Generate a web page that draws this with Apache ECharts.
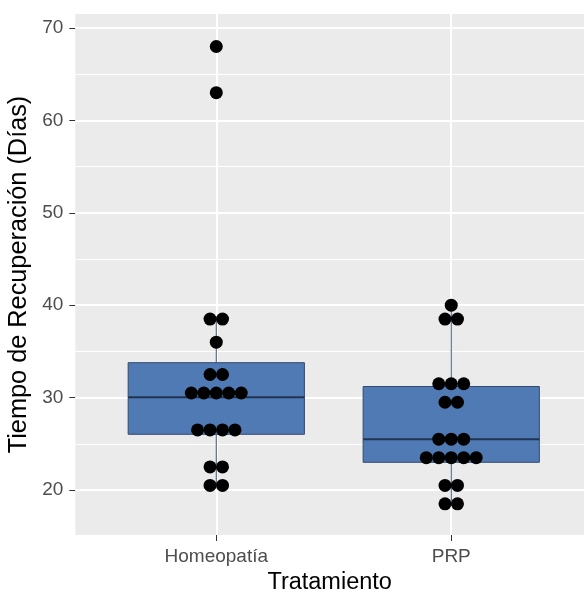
<!DOCTYPE html>
<html>
<head>
<meta charset="utf-8">
<script src="https://cdn.jsdelivr.net/npm/echarts@6/dist/echarts.min.js"></script>
<style>
  html, body { margin: 0; padding: 0; background: #ffffff; }
  #chart { width: 584px; height: 592px; }
</style>
</head>
<body>
<div id="chart"></div>
<script>
// ---- Data ----
const categories = ['Homeopatía', 'PRP'];
// binned dot values and how many dots in each stack
const homeoDotValues = [20.5, 22.5, 26.5, 30.5, 32.5, 36, 38.5, 63, 68];
const homeoDotCounts = [2, 2, 4, 5, 2, 1, 2, 1, 1];
const prpDotValues = [18.5, 20.5, 23.5, 25.5, 29.5, 31.5, 38.5, 40];
const prpDotCounts = [2, 2, 5, 3, 2, 3, 2, 1];
// box statistics: [lower whisker, Q1, median, Q3, upper whisker]
const homeoBox = [20.5, 26.03, 30.03, 33.78, 38.5];
const prpBox = [18.5, 23.0, 25.5, 31.2, 40.0];
const yTicks = [20, 30, 40, 50, 60, 70];
const yMinorTicks = [25, 35, 45, 55, 65];
const xTicks = [1, 2];

// ---- Styling constants ----
const DOT_STEP = 0.0531;   // horizontal spacing of dots in a stack (axis units)
const BOX_WIDTH = 0.75;
const FONT = "'Liberation Sans', Arial, sans-serif";

function buildDots(values, counts, pos) {
  const out = [];
  values.forEach((v, i) => {
    const n = counts[i];
    for (let j = 0; j < n; j++) {
      out.push([pos + (j - (n - 1) / 2) * DOT_STEP, v]);
    }
  });
  return out;
}
const dots = buildDots(homeoDotValues, homeoDotCounts, 1)
  .concat(buildDots(prpDotValues, prpDotCounts, 2));

const boxData = [[1].concat(homeoBox), [2].concat(prpBox)];

const chart = echarts.init(document.getElementById('chart'), null, { renderer: 'canvas' });

const option = {
  animation: false,
  backgroundColor: '#ffffff',
  grid: {
    left: 75.3, right: 0, top: 14, bottom: 57,
    containLabel: false,
    outerBoundsMode: 'none',
    show: true, backgroundColor: '#EBEBEB', borderWidth: 0
  },
  xAxis: {
    type: 'value',
    min: 0.4, max: 2.565,
    name: 'Tratamiento',
    nameLocation: 'middle',
    nameGap: 36,
    nameTextStyle: { fontFamily: FONT, fontSize: 23.5, color: '#000000' },
    axisLine: { show: false },
    axisTick: { show: true, length: 6, customValues: xTicks, lineStyle: { color: '#333333', width: 1 } },
    axisLabel: {
      customValues: xTicks,
      margin: 12,
      fontFamily: FONT, fontSize: 19, color: '#4D4D4D',
      formatter: v => categories[Math.round(v) - 1] || ''
    },
    splitLine: { show: false }
  },
  yAxis: {
    type: 'value',
    min: 15.13, max: 71.52,
    name: 'Tiempo de Recuperación (Días)',
    nameLocation: 'middle',
    nameRotate: 90,
    nameGap: 38,
    nameTextStyle: { fontFamily: FONT, fontSize: 25.3, color: '#000000' },
    axisLine: { show: false },
    axisTick: { show: true, length: 6, customValues: yTicks, lineStyle: { color: '#333333', width: 1 } },
    axisLabel: {
      customValues: yTicks,
      margin: 12,
      fontFamily: FONT, fontSize: 19, color: '#4D4D4D'
    },
    splitLine: { show: false }
  },
  series: [
    {
      type: 'line',
      data: [],
      z: 1,
      silent: true,
      markLine: {
        z: 1,
        silent: true,
        symbol: 'none',
        label: { show: false },
        emphasis: { disabled: true },
        data: yMinorTicks.map(v => ({ yAxis: v, lineStyle: { color: '#ffffff', width: 1, type: 'solid' } }))
          .concat(yTicks.map(v => ({ yAxis: v, lineStyle: { color: '#ffffff', width: 2, type: 'solid' } })))
          .concat(xTicks.map(v => ({ xAxis: v, lineStyle: { color: '#ffffff', width: 2, type: 'solid' } })))
      }
    },
    {
      type: 'custom',
      z: 3,
      silent: true,
      encode: { x: 0, y: [1, 2, 3, 4, 5] },
      data: boxData,
      renderItem: function (params, api) {
        const x = api.value(0);
        const lo = api.coord([x, api.value(1)]);
        const q1 = api.coord([x, api.value(2)]);
        const md = api.coord([x, api.value(3)]);
        const q3 = api.coord([x, api.value(4)]);
        const hi = api.coord([x, api.value(5)]);
        const half = api.size([BOX_WIDTH, 0])[0] / 2;
        const stroke = '#3E5274';
        return {
          type: 'group',
          children: [
            { type: 'line', shape: { x1: lo[0], y1: lo[1], x2: q1[0], y2: q1[1] }, style: { stroke: stroke, lineWidth: 1 } },
            { type: 'line', shape: { x1: q3[0], y1: q3[1], x2: hi[0], y2: hi[1] }, style: { stroke: stroke, lineWidth: 1 } },
            { type: 'rect', shape: { x: q3[0] - half, y: q3[1], width: 2 * half, height: q1[1] - q3[1] },
              style: { fill: '#4F7AB4', stroke: '#34486A', lineWidth: 1 } },
            { type: 'line', shape: { x1: md[0] - half, y1: md[1], x2: md[0] + half, y2: md[1] },
              style: { stroke: '#1F3352', lineWidth: 2 } }
          ]
        };
      }
    },
    {
      type: 'scatter',
      z: 4,
      silent: true,
      symbol: 'circle',
      symbolSize: 13,
      itemStyle: { color: '#000000', opacity: 1 },
      data: dots
    }
  ]
};
chart.setOption(option);
</script>
</body>
</html>
